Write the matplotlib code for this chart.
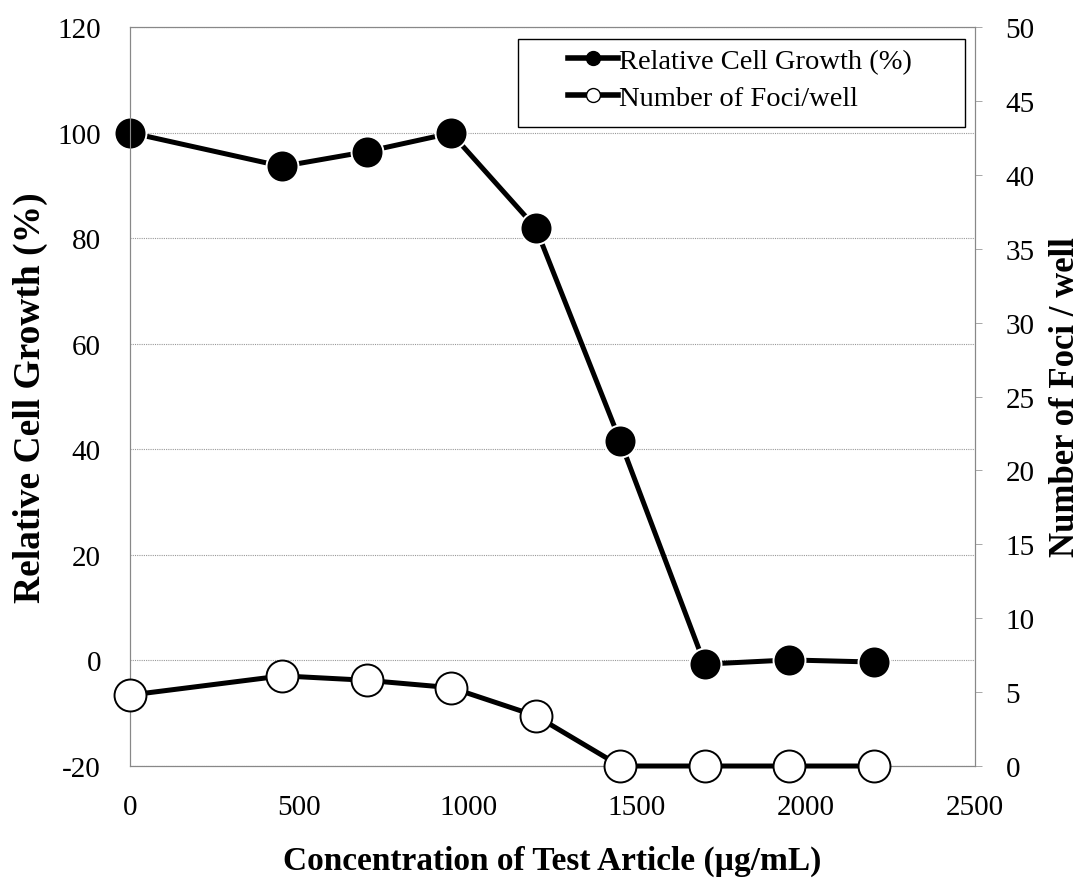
import matplotlib
matplotlib.use("Agg")
import matplotlib.pyplot as plt
from matplotlib.lines import Line2D
from matplotlib.patches import Rectangle

plt.rcParams["font.family"] = ["Liberation Serif", "DejaVu Serif"]
plt.rcParams["axes.unicode_minus"] = False

# dane
conc = [0, 450, 700, 950, 1200, 1450, 1700, 1950, 2200]
growth = [100, 93.6, 96.4, 99.9, 82.0, 41.6, -0.7, 0.1, -0.3]
foci = [4.8, 6.1, 5.8, 5.3, 3.4, 0, 0, 0, 0]

x_ticks = [0, 500, 1000, 1500, 2000, 2500]
left_ticks = [-20, 0, 20, 40, 60, 80, 100, 120]
right_ticks = list(range(0, 51, 5))

fig = plt.figure(figsize=(10.81, 8.79), dpi=100)
ax1 = fig.add_axes([0.1203, 0.1274, 0.7817, 0.8407])
ax2 = ax1.twinx()

ax1.plot(conc, growth, color="black", lw=3.6, marker="o", ms=23,
         mfc="black", mec="white", mew=1.4, clip_on=False, zorder=3)
ax2.plot(conc, foci, color="black", lw=3.6, marker="o", ms=23,
         mfc="white", mec="black", mew=1.4, clip_on=False, zorder=3)

ax1.set_xlim(0, 2500)
ax1.set_ylim(-20, 120)
ax2.set_ylim(0, 50)
ax1.set_xticks(x_ticks)
ax1.set_yticks(left_ticks)
ax2.set_yticks(right_ticks)

ax1.grid(axis="y", color="#999999", lw=0.8, ls=(0, (1, 1)))
ax1.set_axisbelow(True)

for ax in (ax1, ax2):
    for s in ax.spines.values():
        s.set_color("#888888")
        s.set_linewidth(0.8)

ax1.tick_params(axis="x", length=0, labelsize=21, pad=20)
ax1.tick_params(axis="y", length=0, labelsize=21, pad=21)
ax2.tick_params(axis="y", length=5, width=0.6, color="#999999",
                labelsize=21, pad=17)

ax1.set_xlabel("Concentration of Test Article (\u00b5g/mL)", fontsize=24,
               fontweight="bold")
ax1.xaxis.set_label_coords(0.5, -0.107)
ax1.set_ylabel("Relative Cell Growth (%)", fontsize=27, fontweight="bold",
               labelpad=7)
ax2.set_ylabel("Number of Foci / well", fontsize=25, fontweight="bold",
               labelpad=10)

# ramka legendy
ax2.add_patch(Rectangle((0.459, 0.865), 0.529, 0.119, transform=ax2.transAxes,
                        fill=True, facecolor="white", edgecolor="black",
                        lw=1.0, zorder=4, clip_on=False))

handles = [
    Line2D([], [], color="black", lw=4, marker="o", ms=10, mfc="black",
           mec="black"),
    Line2D([], [], color="black", lw=4, marker="o", ms=10, mfc="white",
           mec="black"),
]
leg = ax2.legend(handles, ["Relative Cell Growth (%)", "Number of Foci/well"],
                 loc="center left", bbox_to_anchor=(0.518, 0.929),
                 fontsize=20.5, frameon=False, handlelength=1.75,
                 handletextpad=0.05, borderpad=0, labelspacing=0.36,
                 borderaxespad=0)
leg.set_zorder(5)

fig.savefig("out.png", dpi=100)
